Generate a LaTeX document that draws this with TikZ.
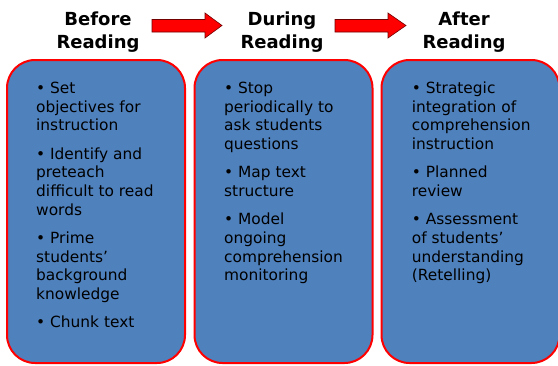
\documentclass[tikz,border=0pt]{standalone}
\usepackage{fontspec}
\setmainfont{DejaVu Sans}
\definecolor{boxblue}{RGB}{79,129,189}
\begin{document}
\begin{tikzpicture}[x=1pt,y=-1pt,
  stagebox/.style={fill=boxblue, draw=red, line width=2pt, rounded corners=28pt,
    minimum width=178pt, minimum height=303pt, inner sep=0pt},
  stagetitle/.style={font=\bfseries\fontsize{18}{23.3}\selectfont, align=center, anchor=base, inner sep=0pt},
  body/.style={font=\fontsize{15.4}{18.7}\selectfont, align=left, anchor=north west, inner sep=0pt, text=black},
  blockarrow/.style={fill=red, draw=black!55!red, line width=0.6pt, line join=miter}]
\useasboundingbox (0,0) rectangle (558,365);
\clip (0,0) rectangle (558,365);

\node[stagebox] (b1) at (96,211.5) {};
\node[stagebox] (b2) at (283.5,211.5) {};
\node[stagebox] (b3) at (470.5,211.5) {};

\node[stagetitle] (t1) at (98,48.3) {Before\\Reading};
\node[stagetitle] (t2) at (282,48.3) {During\\Reading};
\node[stagetitle] (t3) at (464,48.3) {After\\Reading};

\draw[blockarrow] (152,19.5) -- (205,19.5) -- (205,13) -- (222,25.5) -- (205,38) -- (205,32) -- (152,32) -- cycle;
\draw[blockarrow] (335,19.5) -- (388,19.5) -- (388,13) -- (406,25.5) -- (388,38) -- (388,32) -- (335,32) -- cycle;

\node[body] (x1) at (36,80.2) {\strut• Set\\objectives for\\instruction\\[9.6pt]
• Identify and\\preteach\\difficult to read\\words\\[9.6pt]
• Prime\\students’\\background\\knowledge\\[9.6pt]
• Chunk text};

\node[body] (x2) at (224,80.2) {\strut• Stop\\periodically to\\ask students\\questions\\[9.6pt]
• Map text\\structure\\[9.6pt]
• Model\\ongoing\\comprehension\\monitoring};

\node[body] (x3) at (411.7,80.2) {\strut• Strategic\\integration of\\comprehension\\instruction\\[9.6pt]
• Planned\\review\\[9.6pt]
• Assessment\\of students’\\understanding\\(Retelling)};
\end{tikzpicture}
\end{document}
